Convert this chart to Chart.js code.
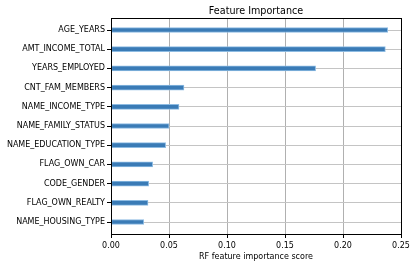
<!DOCTYPE html>
<html lang="en">
<head>
    <meta charset="UTF-8" />
    <title>Feature Importance</title>
    <script src="https://cdn.jsdelivr.net/npm/chart.js"></script>
    <style>
        body { margin: 0; padding: 0; background: #fff; }
        #wrap { width: 415px; height: 265px; }
    </style>
</head>
<body>
    <div id="wrap"><canvas id="fiChart" width="415" height="265"></canvas></div>

    <script>
        const features = ['AGE_YEARS', 'AMT_INCOME_TOTAL', 'YEARS_EMPLOYED', 'CNT_FAM_MEMBERS',
            'NAME_INCOME_TYPE', 'NAME_FAMILY_STATUS', 'NAME_EDUCATION_TYPE', 'FLAG_OWN_CAR',
            'CODE_GENDER', 'FLAG_OWN_REALTY', 'NAME_HOUSING_TYPE'];
        const scores = [0.2385, 0.2365, 0.1764, 0.0629, 0.0586, 0.0500, 0.0471, 0.0359, 0.0325, 0.0319, 0.0282];
        const xTicks = [0, 0.05, 0.10, 0.15, 0.20, 0.25];

        const font = "'DejaVu Sans', sans-serif";

        // title + frame around plot area, like matplotlib spines
        const framePlugin = {
            id: 'frame',
            afterDraw(chart) {
                const { ctx, chartArea: a } = chart;
                ctx.save();
                ctx.strokeStyle = '#000';
                ctx.lineWidth = 1;
                ctx.strokeRect(a.left + 0.5, a.top + 0.5, a.right - a.left, a.bottom - a.top);
                ctx.fillStyle = '#000';
                ctx.font = '9.6px ' + font;
                ctx.textAlign = 'center';
                ctx.textBaseline = 'alphabetic';
                ctx.fillText('Feature Importance', (a.left + a.right) / 2, 13.5);
                ctx.restore();
            }
        };

        new Chart(document.getElementById('fiChart'), {
            type: 'bar',
            data: {
                datasets: [{
                    data: scores.map((s, i) => ({ x: s, y: i })),
                    backgroundColor: '#3a7bb6',
                    borderColor: '#8dbbe2',
                    borderWidth: 1,
                    borderSkipped: false,
                    barThickness: 5
                }]
            },
            options: {
                indexAxis: 'y',
                responsive: false,
                animation: false,
                layout: { padding: { top: 18, right: 14, left: 0, bottom: 0 } },
                plugins: {
                    legend: { display: false },
                    tooltip: { enabled: false }
                },
                scales: {
                    x: {
                        type: 'linear',
                        min: 0,
                        max: 0.25,
                        afterBuildTicks(axis) {
                            axis.ticks = xTicks.map(v => ({ value: v }));
                        },
                        afterFit(axis) { axis.height = 31; },
                        grid: { color: '#b0b0b0', tickColor: '#000', tickLength: 4 },
                        border: { display: false },
                        ticks: {
                            color: '#000',
                            font: { family: font, size: 8 },
                            padding: 3,
                            callback: v => Number(v).toFixed(2)
                        },
                        title: {
                            display: true,
                            text: 'RF feature importance score',
                            color: '#000',
                            font: { family: font, size: 8 },
                            padding: { top: 1, bottom: 3 }
                        }
                    },
                    y: {
                        type: 'linear',
                        reverse: true,
                        offset: false,
                        min: -0.625,
                        max: features.length - 1 + 0.625,
                        z: 1,
                        afterBuildTicks(axis) {
                            axis.ticks = features.map((f, i) => ({ value: i }));
                        },
                        afterFit(axis) { axis.width = 111; },
                        grid: { offset: false, color: '#c4c4c4', tickColor: '#000', tickLength: 4 },
                        border: { display: false },
                        ticks: {
                            color: '#000',
                            font: { family: font, size: 8 },
                            padding: 2,
                            callback: v => features[v]
                        }
                    }
                }
            },
            plugins: [framePlugin]
        });
    </script>
</body>
</html>
